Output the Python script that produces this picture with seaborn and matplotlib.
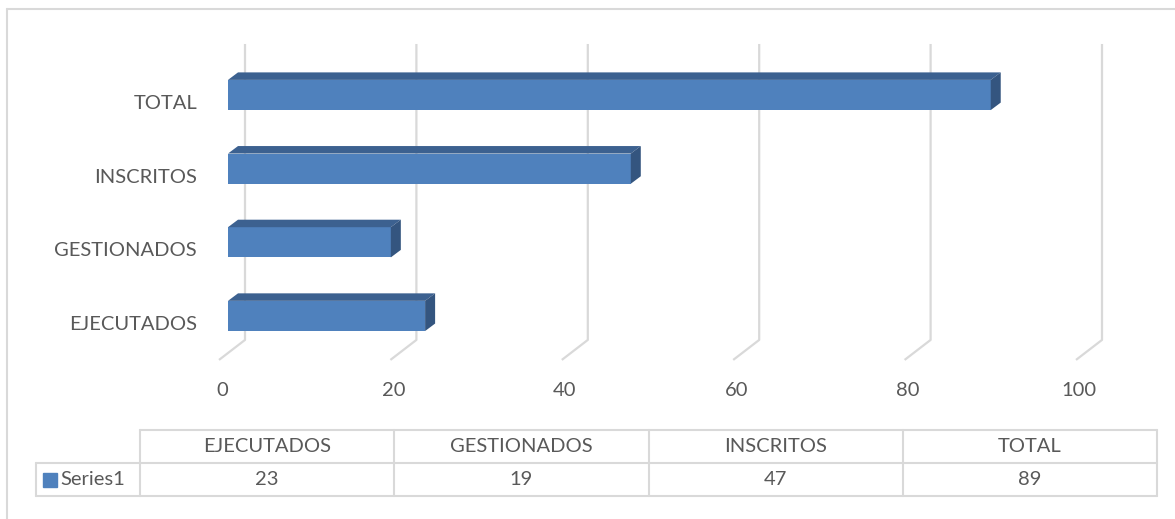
import numpy as np
import pandas as pd
import matplotlib
matplotlib.use("Agg")
import matplotlib.pyplot as plt
import matplotlib.transforms as mtransforms
from matplotlib.lines import Line2D
from matplotlib.patches import Polygon
import seaborn as sns

# data
categories = ["EJECUTADOS", "GESTIONADOS", "INSCRITOS", "TOTAL"]
values = [23, 19, 47, 89]
series_name = "Series1"
xticks = [0, 20, 40, 60, 80, 100]

df = pd.DataFrame({"cat": categories, "val": values})

sns.set_style("white")
plt.rcParams["font.family"] = ["Lato", "DejaVu Sans"]

TXT = "#595959"
GRID = "#d9d9d9"
FRONT = "#4f81bd"
TOP = "#3c6190"
SIDE = "#34557f"
FS = 14.5

W, H = 1175, 519
fig = plt.figure(figsize=(W / 100, H / 100), dpi=100)


def fbox(left, top, right, bottom):
    # pixel box -> figure fraction
    return [left / W, 1 - bottom / H, (right - left) / W, (bottom - top) / H]


ax = fig.add_axes(fbox(228, 40, 1085, 365))
order = categories[::-1]
sns.barplot(data=df, y="cat", x="val", order=order, color=FRONT, width=0.41,
            saturation=1, ax=ax, zorder=3, linewidth=0)
ax.set_xlim(0, 100)
ax.set_ylim(3.666, -0.7466)
ax.set_xlabel("")
ax.set_ylabel("")
for s in ax.spines.values():
    s.set_visible(False)

fig.canvas.draw()
bb = ax.get_window_extent()
sx = bb.width / 100.0
sy = bb.height / (3.666 + 0.7466)


def off(px, py):
    # pixel offset (right, up) -> data offset
    return px / sx, -py / sy


# back wall + floor gridlines
bdx, bdy = off(17, 13)
fdx, fdy = off(-9, -7)
y_floor = 3.502
y_top = -0.516
for v in xticks:
    ax.plot([v + bdx, v + bdx, v + fdx], [y_top + bdy, y_floor + bdy, y_floor + fdy],
            color=GRID, lw=1.6, clip_on=False, zorder=1, solid_capstyle="butt")

# 3d faces for bars
ddx, ddy = off(10, 7.5)
for p in ax.patches:
    x0, y0 = p.get_x(), p.get_y()
    w, h = p.get_width(), p.get_height()
    top = Polygon([(x0, y0), (x0 + w, y0), (x0 + w + ddx, y0 + ddy), (x0 + ddx, y0 + ddy)],
                  closed=True, facecolor=TOP, edgecolor="none", zorder=3, clip_on=False)
    side = Polygon([(x0 + w, y0), (x0 + w + ddx, y0 + ddy), (x0 + w + ddx, y0 + h + ddy), (x0 + w, y0 + h)],
                   closed=True, facecolor=SIDE, edgecolor="none", zorder=3, clip_on=False)
    ax.add_patch(top)
    ax.add_patch(side)

ax.set_xticks(xticks)
ax.set_xticklabels([str(t) for t in xticks])
ax.tick_params(axis="x", length=0, pad=12, labelsize=FS, labelcolor=TXT)
ax.tick_params(axis="y", length=0, pad=22.3, labelsize=FS, labelcolor=TXT)
for lab in ax.get_xticklabels():
    lab.set_transform(lab.get_transform() + mtransforms.ScaledTranslation(-0.06, 0, fig.dpi_scale_trans))
for lab in ax.get_yticklabels():
    lab.set_transform(lab.get_transform() + mtransforms.ScaledTranslation(0, -0.07, fig.dpi_scale_trans))

# data table
tab = fig.add_axes(fbox(140, 430, 1157, 496))
tab.set_xlim(0, 4)
tab.set_ylim(2, 0)
tab.axis("off")
xl = -104 / 254.25
kw = dict(color=GRID, lw=1.5, clip_on=False)
tab.plot([0, 4], [0, 0], **kw)
tab.plot([xl, 4], [1, 1], **kw)
tab.plot([xl, 4], [2, 2], **kw)
tab.plot([xl, xl], [1, 2], **kw)
for i in range(5):
    tab.plot([i, i], [0, 2], **kw)
for i, (c, v) in enumerate(zip(categories, values)):
    tab.text(i + 0.5, 0.5, c, ha="center", va="center", fontsize=FS, color=TXT)
    tab.text(i + 0.5, 1.5, str(v), ha="center", va="center", fontsize=FS, color=TXT)
tab.plot([-0.355], [1.5], marker="s", ms=10, color=FRONT, clip_on=False, lw=0)
tab.text(-0.315, 1.5, series_name, ha="left", va="center", fontsize=FS, color=TXT)

# chart border (top and left visible)
fig.add_artist(Line2D([7 / W, 1], [1 - 9 / H, 1 - 9 / H], color=GRID, lw=1.5))
fig.add_artist(Line2D([7 / W, 7 / W], [0, 1 - 9 / H], color=GRID, lw=1.5))

fig.savefig("out.png", dpi=100)
